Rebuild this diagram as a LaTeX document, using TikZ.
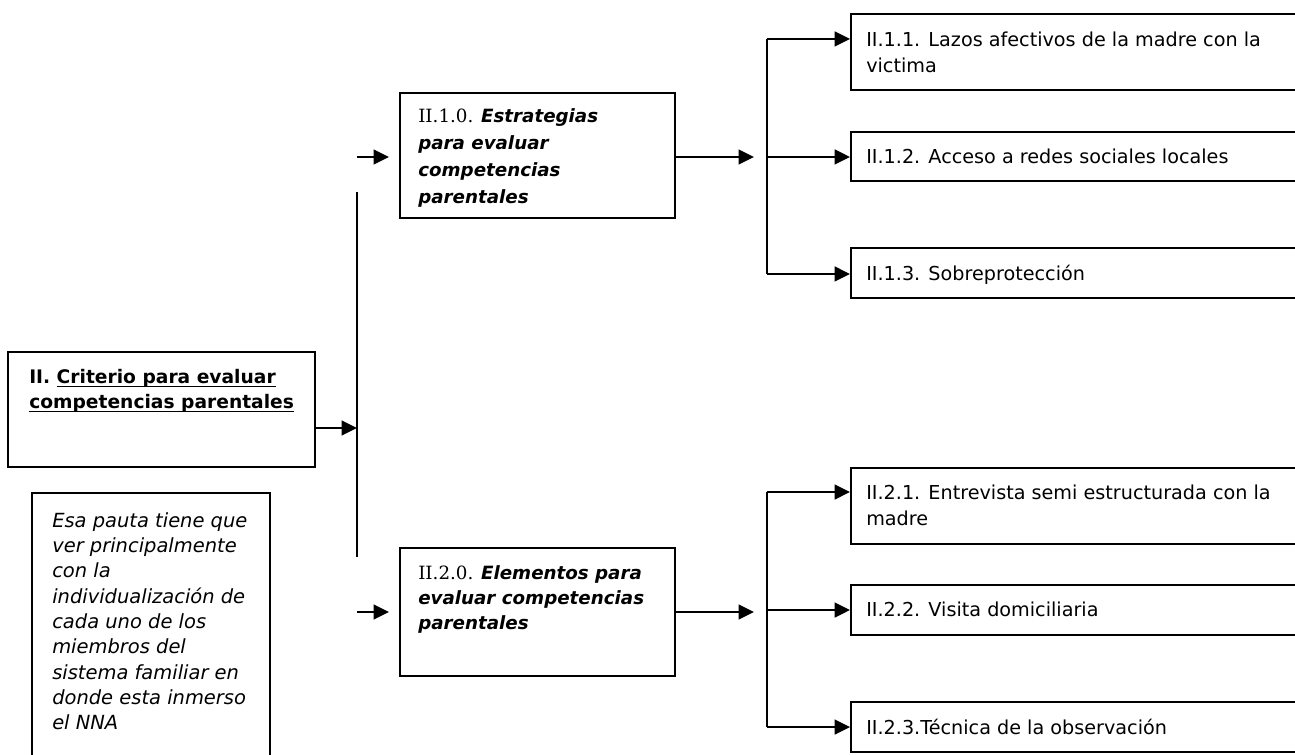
\documentclass[tikz,border=0pt]{standalone}
\usepackage{fontspec}
\setmainfont{DejaVu Sans}
\newfontfamily\serifx{DejaVu Serif}
\newcommand\myul[1]{\leavevmode\setbox0=\hbox{#1}\rlap{\rule[-2.8pt]{\wd0}{1pt}}\box0}
\usetikzlibrary{arrows.meta,fit}
\begin{document}
\begin{tikzpicture}[x=0.75pt,y=-0.75pt,
  box/.style={draw=black, line width=1.4pt, inner sep=0pt, fill=none},
  arr/.style={line width=1.6pt, -{Triangle[length=11.5pt,width=11pt]}},
  trunk/.style={line width=1.3pt},
  txt/.style={anchor=north west, inner sep=0pt, align=left, font=\fontsize{14.4}{19.2}\selectfont},
  ]
\useasboundingbox (0,0) rectangle (1295,755);
% boxes
\node[box, fit={(8,352) (315,467)}] (main) {};
\node[box, fit={(32,493) (270,770)}] (note) {};
\node[box, fit={(400,93) (675,218)}] (s1) {};
\node[box, fit={(400,548) (675,676)}] (s2) {};
\node[box, fit={(851,14) (1310,90)}] (r11) {};
\node[box, fit={(851,132) (1310,181)}] (r12) {};
\node[box, fit={(851,248) (1310,298)}] (r13) {};
\node[box, fit={(851,468) (1310,544)}] (r21) {};
\node[box, fit={(851,585) (1310,635)}] (r22) {};
\node[box, fit={(851,702) (1310,752)}] (r23) {};
% texts
\node[txt, font=\fontsize{14}{18.75}\selectfont\bfseries] (tmain) at (29,369) {II. \myul{Criterio para evaluar}\\\myul{competencias parentales}};
\node[txt, font=\fontsize{14.6}{19}\selectfont\itshape] (tnote) at (52,512) {Esa pauta tiene que\\ver principalmente\\con la\\individualización de\\cada uno de los\\miembros del\\sistema familiar en\\donde esta inmerso\\el NNA};
\node[txt, font=\fontsize{13.7}{20.3}\selectfont] (ts1) at (418,108) {{\serifx II.1.0.} \textbf{\textit{Estrategias}}\\\textbf{\textit{para evaluar}}\\\textbf{\textit{competencias}}\\\textbf{\textit{parentales}}};
\node[txt, font=\fontsize{13.7}{19}\selectfont] (ts2) at (418,565) {{\serifx II.2.0.} \textbf{\textit{Elementos para}}\\\textbf{\textit{evaluar competencias}}\\\textbf{\textit{parentales}}};
\node[txt] (tr11) at (866,32) {II.1.1. Lazos afectivos de la madre con la\\victima};
\node[txt] (tr12) at (866,149) {II.1.2. Acceso a redes sociales locales};
\node[txt] (tr13) at (866,265) {II.1.3. Sobreprotección};
\node[txt] (tr21) at (866,485) {II.2.1. Entrevista semi estructurada con la\\madre};
\node[txt] (tr22) at (866,602) {II.2.2. Visita domiciliaria};
\node[txt] (tr23) at (866,719) {II.2.3.Técnica de la observación};
% coordinates
\coordinate (vtop) at (357,192);
\coordinate (vbot) at (357,557);
\coordinate (vmid) at (357,428);
\coordinate (a1s) at (357,157);
\coordinate (a1e) at (389,157);
\coordinate (a2s) at (357,612);
\coordinate (a2e) at (389,612);
\coordinate (b1e) at (754,157);
\coordinate (b2e) at (754,612);
\coordinate (t1a) at (767,39);
\coordinate (t1b) at (767,157);
\coordinate (t1c) at (767,274);
\coordinate (t2a) at (767,492);
\coordinate (t2b) at (767,610);
\coordinate (t2c) at (767,727);
% connectors
\draw[trunk] (vtop) -- (vbot);
\draw[arr] (main.east |- vmid) -- (vmid);
\draw[arr] (a1s) -- (a1e);
\draw[arr] (a2s) -- (a2e);
\draw[arr] (s1.east |- b1e) -- (b1e);
\draw[arr] (s2.east |- b2e) -- (b2e);
\draw[trunk] (t1a) -- (t1c);
\draw[trunk] (t2a) -- (t2c);
\draw[arr] (t1a) -- (r11.west |- t1a);
\draw[arr] (t1b) -- (r12.west |- t1b);
\draw[arr] (t1c) -- (r13.west |- t1c);
\draw[arr] (t2a) -- (r21.west |- t2a);
\draw[arr] (t2b) -- (r22.west |- t2b);
\draw[arr] (t2c) -- (r23.west |- t2c);
\end{tikzpicture}
\end{document}
